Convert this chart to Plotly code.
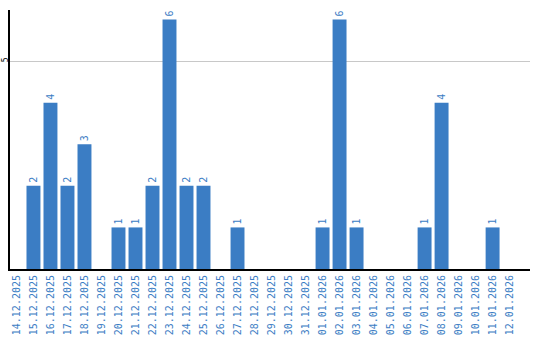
import plotly.graph_objects as go

dates = ["14.12.2025","15.12.2025","16.12.2025","17.12.2025","18.12.2025","19.12.2025",
         "20.12.2025","21.12.2025","22.12.2025","23.12.2025","24.12.2025","25.12.2025",
         "26.12.2025","27.12.2025","28.12.2025","29.12.2025","30.12.2025","31.12.2025",
         "01.01.2026","02.01.2026","03.01.2026","04.01.2026","05.01.2026","06.01.2026",
         "07.01.2026","08.01.2026","09.01.2026","10.01.2026","11.01.2026","12.01.2026"]
counts = [0,2,4,2,3,0,1,1,2,6,2,2,0,1,0,0,0,0,1,6,1,0,0,0,1,4,0,0,1,0]

blue = "#3b7dc4"
labels = [str(v) if v > 0 else "" for v in counts]

fig = go.Figure(go.Bar(
    x=dates, y=counts, marker_color=blue, marker_line_width=0,
    text=labels, textposition="outside", textangle=-90,
    textfont=dict(family="DejaVu Sans Mono", size=10, color=blue),
    cliponaxis=False, hoverinfo="skip"))

fig.update_layout(
    width=540, height=340,
    margin=dict(l=10, r=10, t=10, b=71),
    paper_bgcolor="white", plot_bgcolor="white",
    bargap=0.18, showlegend=False,
    xaxis=dict(type="category", range=[-0.38, 30.2], tickangle=-90,
               showline=True, linecolor="black", linewidth=2,
               tickfont=dict(family="DejaVu Sans Mono", size=10, color=blue),
               ticks="", showgrid=False, automargin=False),
    yaxis=dict(range=[0, 6.23], tickvals=[5], ticktext=["5"], tickangle=-90,
               showline=True, linecolor="black", linewidth=2,
               showgrid=True, gridcolor="#c8c8c8", gridwidth=1, zeroline=False,
               tickfont=dict(family="DejaVu Sans Mono", size=8, color="black"),
               ticks="", ticklen=0, ticklabelstandoff=-3, automargin=False),
)

fig.write_html("out.html")
